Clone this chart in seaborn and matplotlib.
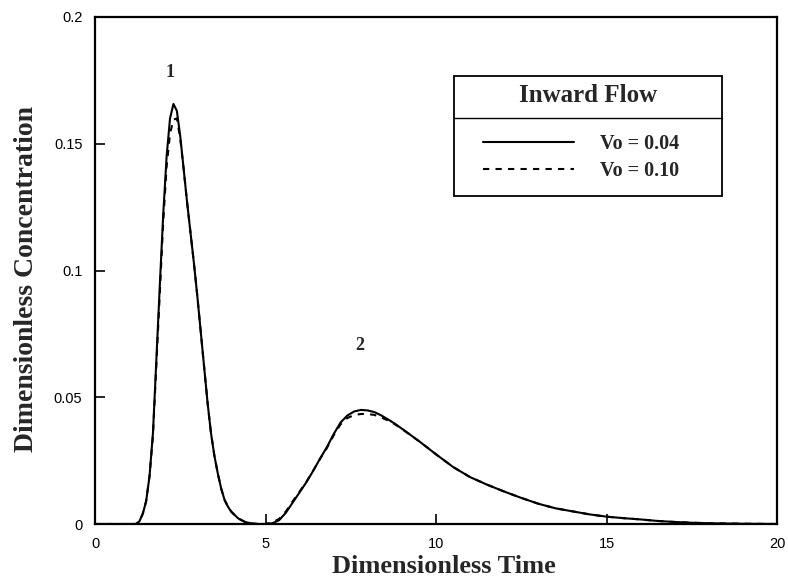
import numpy as np
import pandas as pd
import matplotlib
matplotlib.use("Agg")
import matplotlib.pyplot as plt
import seaborn as sns
from matplotlib.patches import Rectangle
from matplotlib.lines import Line2D

# ---- data ----
time = [0.0, 1.0, 1.2, 1.3, 1.4, 1.5, 1.6, 1.7, 1.8, 1.9, 2.0, 2.1, 2.2, 2.3, 2.4,
        2.5, 2.6, 2.7, 2.8, 2.9, 3.0, 3.1, 3.2, 3.3, 3.4, 3.5, 3.6, 3.7, 3.8, 3.9,
        4.0, 4.2, 4.4, 4.6, 4.8, 5.0, 5.2, 5.4, 5.6, 5.8, 6.0, 6.2, 6.4, 6.6, 6.8,
        7.0, 7.2, 7.4, 7.6, 7.8, 8.0, 8.2, 8.4, 8.6, 8.8, 9.0, 9.5, 10.0, 10.5,
        11.0, 11.5, 12.0, 12.5, 13.0, 13.5, 14.0, 14.5, 15.0, 15.5, 16.0, 16.5,
        17.0, 17.5, 18.0, 19.0, 20.0]

conc_v004 = [0.0, 0.0, 0.0, 0.001, 0.004, 0.009, 0.019, 0.036, 0.065, 0.094, 0.122,
             0.145, 0.160, 0.1657, 0.163, 0.153, 0.140, 0.127, 0.115, 0.103, 0.090,
             0.076, 0.062, 0.048, 0.036, 0.027, 0.020, 0.014, 0.0095, 0.0068,
             0.0048, 0.0022, 0.0008, 0.0002, 0.0, 0.0, 0.0003, 0.0015, 0.0045,
             0.0085, 0.0125, 0.0165, 0.0210, 0.0258, 0.0303, 0.0355, 0.0400,
             0.0428, 0.0444, 0.0450, 0.0448, 0.0441, 0.0428, 0.0412, 0.0395,
             0.0376, 0.0327, 0.0275, 0.0225, 0.0185, 0.0155, 0.0128, 0.0103,
             0.0080, 0.0062, 0.0050, 0.0038, 0.0029, 0.0023, 0.0018, 0.0012,
             0.0008, 0.0005, 0.0003, 0.0001, 0.0]

conc_v010 = [0.0, 0.0, 0.0, 0.001, 0.004, 0.009, 0.019, 0.035, 0.063, 0.091, 0.119,
             0.141, 0.154, 0.1595, 0.160, 0.152, 0.140, 0.127, 0.115, 0.103, 0.090,
             0.076, 0.062, 0.048, 0.036, 0.027, 0.020, 0.014, 0.0095, 0.0068,
             0.0048, 0.0022, 0.0008, 0.0002, 0.0, 0.0, 0.0006, 0.0020, 0.0050,
             0.0090, 0.0128, 0.0167, 0.0211, 0.0257, 0.0300, 0.0350, 0.0393,
             0.0418, 0.0430, 0.0434, 0.0434, 0.0430, 0.0420, 0.0408, 0.0393,
             0.0375, 0.0327, 0.0275, 0.0225, 0.0185, 0.0155, 0.0128, 0.0103,
             0.0080, 0.0062, 0.0050, 0.0038, 0.0029, 0.0023, 0.0018, 0.0012,
             0.0008, 0.0005, 0.0003, 0.0001, 0.0]

series_labels = ["Vo = 0.04", "Vo = 0.10"]
peak_labels = ["1", "2"]
peak_label_pos = [(2.2, 0.178), (7.77, 0.0705)]
x_ticks = [0, 5, 10, 15, 20]
y_ticks = [0, 0.05, 0.1, 0.15, 0.2]
y_ticklabels = ["0", "0.05", "0.1", "0.15", "0.2"]

df = pd.concat([
    pd.DataFrame({"t": time, "c": conc_v004, "series": series_labels[0]}),
    pd.DataFrame({"t": time, "c": conc_v010, "series": series_labels[1]}),
])

sns.set_theme(style="ticks")
plt.rcParams["font.family"] = ["Liberation Sans", "DejaVu Sans"]
serif = ["Liberation Serif", "DejaVu Serif"]

fig = plt.figure(figsize=(7.88, 5.81), dpi=100)
ax = fig.add_axes([95 / 788, 1 - 524 / 581, 682 / 788, 507 / 581])

sns.lineplot(data=df, x="t", y="c", style="series",
             dashes={series_labels[0]: "", series_labels[1]: (3, 3)},
             color="black", linewidth=1.5, legend=False, ax=ax, sort=False)

ax.set_xlim(0, 20)
ax.set_ylim(0, 0.2)
ax.set_xticks(x_ticks)
ax.set_xticklabels([str(v) for v in x_ticks])
ax.set_yticks(y_ticks)
ax.set_yticklabels(y_ticklabels)
ax.tick_params(direction="in", length=7, width=1.2, colors="black",
               labelsize=10.5, top=False, right=False)
ax.tick_params(axis="y", pad=9)
ax.tick_params(axis="x", pad=9)
for sp in ax.spines.values():
    sp.set_visible(True)
    sp.set_linewidth(1.6)
    sp.set_color("black")

ax.set_xlabel("Dimensionless Time", fontfamily=serif, fontweight="bold",
              fontsize=19)
ax.set_ylabel("Dimensionless Concentration", fontfamily=serif,
              fontweight="bold", fontsize=20)
ax.xaxis.set_label_coords(0.5117, -0.062, transform=ax.transAxes)
ax.xaxis.label.set_va("top")
ax.yaxis.set_label_coords(-0.100, 0.484, transform=ax.transAxes)
ax.yaxis.label.set_va("center")

for lab, (px, py) in zip(peak_labels, peak_label_pos):
    ax.text(px, py, lab, fontfamily=serif, fontweight="bold", fontsize=13,
            ha="center", va="center")

# legend box with title row
bx0, bx1 = 0.526, 0.919
by0, by1, bsep = 0.647, 0.884, 0.801
ax.add_patch(Rectangle((bx0, by0), bx1 - bx0, by1 - by0, transform=ax.transAxes,
                       fill=False, edgecolor="black", linewidth=1.3, zorder=5))
ax.add_line(Line2D([bx0, bx1], [bsep, bsep], transform=ax.transAxes,
                   color="black", linewidth=1.0, zorder=5))
ax.text((bx0 + bx1) / 2, 0.832, "Inward Flow", transform=ax.transAxes,
        fontfamily=serif, fontweight="bold", fontsize=18, ha="center",
        va="baseline", zorder=6)
handles = ax.get_lines()[:2]
leg = ax.legend(handles, series_labels, loc="center",
                bbox_to_anchor=(0.7126, 0.723),
                frameon=False, handlelength=4.5, handletextpad=1.3,
                labelspacing=0.35, borderpad=0.0, borderaxespad=0.0,
                prop={"family": serif, "weight": "bold", "size": 14.5})

fig.savefig("out.png", dpi=100)
